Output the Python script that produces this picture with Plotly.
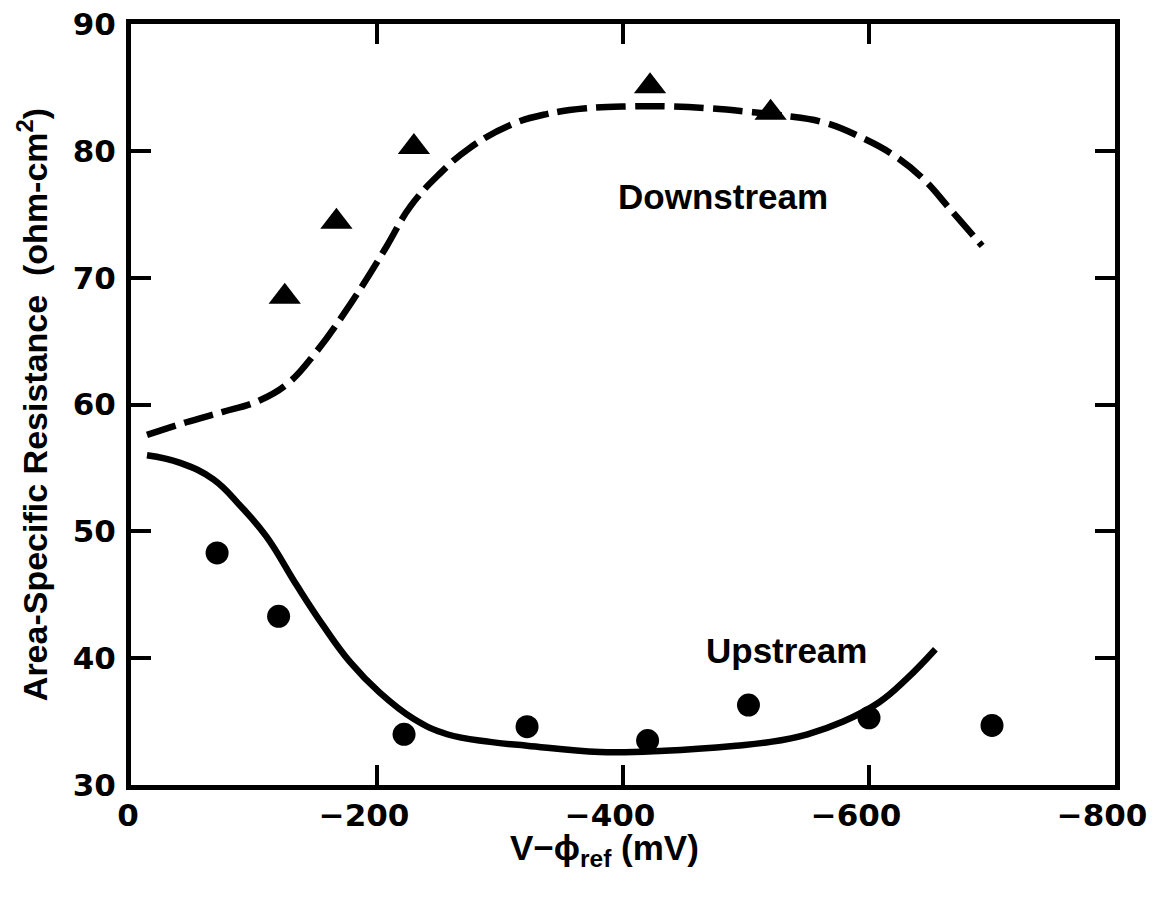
import plotly.graph_objects as go

# Measured points (mV vs ohm-cm^2)
down_x = [-125, -167, -230, -422, -520]
down_y = [68.5, 74.4, 80.3, 85.1, 83.0]

up_x = [-70, -120, -222, -322, -420, -502, -600, -700]
up_y = [48.3, 43.3, 34.0, 34.6, 33.5, 36.3, 35.3, 34.7]

# Model curves
down_fit_x = [-13, -45, -74, -104, -128, -151, -172, -189, -208, -227, -250, -275,
              -310, -338, -370, -406, -438, -470, -500, -528, -563, -595, -621,
              -644, -666, -692]
down_fit_y = [57.6, 58.6, 59.4, 60.3, 61.7, 64.2, 67.0, 69.5, 72.5, 75.6, 78.1, 80.2,
              82.1, 82.9, 83.35, 83.5, 83.5, 83.35, 83.1, 82.8, 82.25, 81.0, 79.6,
              77.8, 75.4, 72.5]

up_fit_x = [-13, -40, -67, -89, -110, -135, -156, -178, -202, -230, -257, -292,
            -322, -381, -434, -492, -520, -550, -579, -608, -631, -654]
up_fit_y = [56.0, 55.4, 54.1, 52.0, 49.6, 45.7, 42.6, 39.7, 37.3, 35.2, 34.0, 33.4,
            33.1, 32.6, 32.7, 33.1, 33.4, 34.0, 35.0, 36.5, 38.4, 40.7]

x_tick_vals = [0, -200, -400, -600, -800]
x_tick_text = ["0", "\u2212200", "\u2212400", "\u2212600", "\u2212800"]
y_tick_vals = [30, 40, 50, 60, 70, 80, 90]

FONT = "Liberation Sans, Arial, Helvetica, sans-serif"
TICK_FONT = "DejaVu Sans, Verdana, sans-serif"
INK = "black"

fig = go.Figure()

fig.add_trace(go.Scatter(
    x=down_fit_x, y=down_fit_y, mode="lines",
    line=dict(color=INK, width=6.5, dash="30px,9px", shape="spline", smoothing=1.2),
    showlegend=False, hoverinfo="skip"))
fig.add_trace(go.Scatter(
    x=up_fit_x, y=up_fit_y, mode="lines",
    line=dict(color=INK, width=6.5, shape="spline", smoothing=1.2),
    showlegend=False, hoverinfo="skip"))
fig.add_trace(go.Scatter(
    x=down_x, y=down_y, mode="markers",
    marker=dict(symbol="triangle-up", size=28, color=INK, line=dict(width=0)),
    showlegend=False))
fig.add_trace(go.Scatter(
    x=up_x, y=up_y, mode="markers",
    marker=dict(symbol="circle", size=23, color=INK, line=dict(width=0)),
    showlegend=False))

tick_font = dict(family=TICK_FONT, size=31, color=INK, weight="bold")

frame = dict(
    showgrid=False, zeroline=False, showline=True, linecolor=INK, linewidth=5,
    mirror="ticks", ticks="inside", ticklen=20, tickwidth=4, tickcolor=INK,
    automargin=False, tickfont=tick_font,
)

# labels-only overlay axes: negative labels are shifted so their digits sit on the tick
label_axis = dict(
    overlaying="x", matches="x", range=[0, -800], side="bottom",
    showgrid=False, zeroline=False, showline=False, ticks="",
    automargin=False, tickfont=tick_font, ticklabeloverflow="allow",
    ticklabelstandoff=9,
)

fig.update_layout(
    template="none",
    width=1159, height=898,
    margin=dict(l=131, r=44, t=24, b=113),
    paper_bgcolor="white", plot_bgcolor="white",
    xaxis=dict(range=[0, -800], tickvals=x_tick_vals, showticklabels=False, **frame),
    xaxis2=dict(tickvals=x_tick_vals[1:], ticktext=x_tick_text[1:],
                ticklabelshift=13, **label_axis),
    xaxis3=dict(tickvals=x_tick_vals[:1], ticktext=x_tick_text[:1],
                ticklabelshift=3, **label_axis),
    yaxis=dict(
        range=[30, 90], tickvals=y_tick_vals,
        ticklabelstandoff=4,
        title=dict(text="Area-Specific Resistance  (ohm-cm<sup>2</sup>)", standoff=16,
                   font=dict(family=FONT, size=34, color=INK, weight="bold")),
        **frame),
    annotations=[
        dict(xref="paper", yref="paper", x=0.4817, y=0, yshift=-41,
             xanchor="center", yanchor="top", showarrow=False,
             text="V\u2212\u03d5<sub>ref</sub> (mV)",
             font=dict(family=FONT, size=35, color=INK, weight="bold")),
        dict(x=-481, y=76.4, text="Downstream", showarrow=False,
             xanchor="center", yanchor="middle",
             font=dict(family=FONT, size=35, color=INK, weight="bold")),
        dict(x=-533, y=40.6, text="Upstream", showarrow=False,
             xanchor="center", yanchor="middle",
             font=dict(family=FONT, size=35, color=INK, weight="bold")),
    ],
)

# invisible anchor traces so the overlay label axes are rendered
fig.add_trace(go.Scatter(x=[None], y=[None], xaxis="x2", showlegend=False, hoverinfo="skip"))
fig.add_trace(go.Scatter(x=[None], y=[None], xaxis="x3", showlegend=False, hoverinfo="skip"))

fig.write_html("out.html")
